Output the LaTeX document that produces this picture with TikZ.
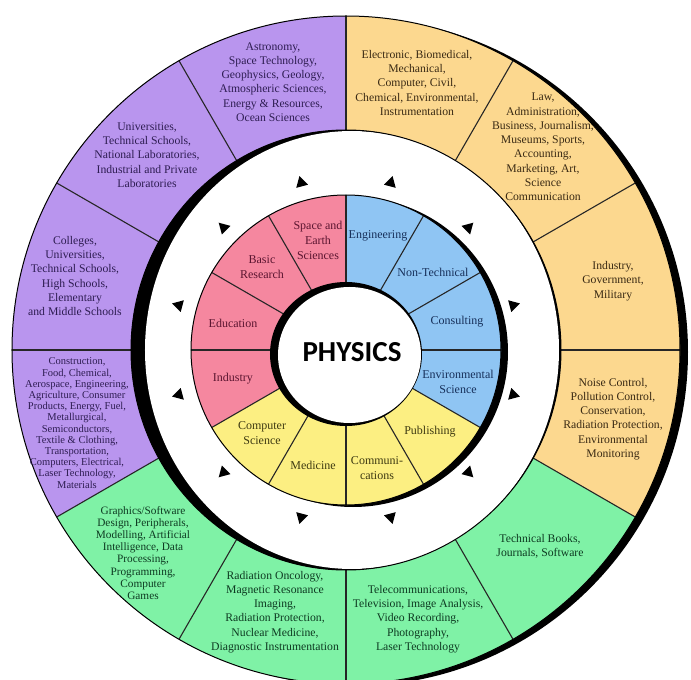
\documentclass[tikz,border=0pt]{standalone}
\usepackage{fontspec}
\setmainfont{Liberation Serif}
\newfontfamily\physfont{Carlito}
\usetikzlibrary{shapes.geometric}
\definecolor{purp}{HTML}{B995EE}
\definecolor{orng}{HTML}{FCD88F}
\definecolor{grn}{HTML}{7FF2A6}
\definecolor{pnk}{HTML}{F5879F}
\definecolor{blu}{HTML}{8FC5F3}
\definecolor{yel}{HTML}{FCEF82}
\definecolor{tpurp}{HTML}{2E1D52}
\definecolor{torng}{HTML}{3A2A14}
\definecolor{tgrn}{HTML}{0E3B22}
\definecolor{tpnk}{HTML}{5B1530}
\definecolor{tblu}{HTML}{17305A}
\definecolor{tyel}{HTML}{3E3A12}
\begin{document}
\begin{tikzpicture}[x=1pt,y=1pt,
  divline/.style={draw=black!85, line width=1.1},
  otxt/.style={align=center, inner sep=0pt, font=\fontsize{11.7}{14.3}\selectfont},
  itxt/.style={align=center, inner sep=0pt, font=\fontsize{12}{15}\selectfont},
  tri/.style={regular polygon, regular polygon sides=3, fill=black, draw=none, minimum size=14pt, inner sep=0pt}]
\useasboundingbox (-346,-330) rectangle (345,350);
\fill[white] (-346,-330) rectangle (345,350);
% outer ring
\fill[black] (8,-2) circle (334);
\fill[orng] (0,0) -- (-30:334) arc[start angle=-30,end angle=90,radius=334] -- cycle;
\fill[grn] (0,0) -- (-150:334) arc[start angle=-150,end angle=-30,radius=334] -- cycle;
\fill[purp] (0,0) -- (90:334) arc[start angle=90,end angle=210,radius=334] -- cycle;
\foreach \a in {0,30,...,330} \draw[divline] (0,0) -- (\a:334);
\draw[line width=1] (0,0) circle (334);
% outer texts
\node[otxt, text=tpurp] (o1) at (-73,268) {Astronomy,\\Space Technology,\\Geophysics, Geology,\\Atmospheric Sciences,\\Energy \& Resources,\\Ocean Sciences};
\node[otxt, text=tpurp] (o2) at (-199,195) {Universities,\\Technical Schools,\\National Laboratories,\\Industrial and Private\\Laboratories};
\node[otxt, text=tpurp] (o3) at (-271,74) {Colleges,\\Universities,\\Technical Schools,\\High Schools,\\Elementary\\and Middle Schools};
\node[otxt, text=tpurp, font=\fontsize{10.5}{11.2}\selectfont] (o4) at (-269,-73) {Construction,\\Food, Chemical,\\Aerospace, Engineering,\\Agriculture, Consumer\\Products, Energy, Fuel,\\Metallurgical,\\Semiconductors,\\Textile \& Clothing,\\Transportation,\\Computers, Electrical,\\Laser Technology,\\Materials};
\node[otxt, text=tgrn, font=\fontsize{11.3}{12.1}\selectfont] (o5) at (-203,-203) {Graphics/Software\\Design, Peripherals,\\Modelling, Artificial\\Intelligence, Data\\Processing,\\Programming,\\Computer\\Games};
\node[otxt, text=tgrn] (o6) at (-71,-262) {Radiation Oncology,\\Magnetic Resonance\\Imaging,\\Radiation Protection,\\Nuclear Medicine,\\Diagnostic Instrumentation};
\node[otxt, text=tgrn] (o7) at (72,-269) {Telecommunications,\\Television, Image Analysis,\\Video Recording,\\Photography,\\Laser Technology};
\node[otxt, text=tgrn] (o8) at (194,-196) {Technical Books,\\Journals, Software};
\node[otxt, text=torng] (o9) at (267,-69) {Noise Control,\\Pollution Control,\\Conservation,\\Radiation Protection,\\Environmental\\Monitoring};
\node[otxt, text=torng] (o10) at (267,69) {Industry,\\Government,\\Military};
\node[otxt, text=torng] (o11) at (197,203) {Law,\\Administration,\\Business, Journalism,\\Museums, Sports,\\Accounting,\\Marketing, Art,\\Science\\Communication};
\node[otxt, text=torng] (o12) at (71,267) {Electronic, Biomedical,\\Mechanical,\\Computer, Civil,\\Chemical, Environmental,\\Instrumentation};
% white annulus
\fill[black] (0,0) ellipse[x radius=215, y radius=220];
\fill[white] (6,0) ellipse[x radius=207, y radius=219];
\draw[line width=1] (0,0) ellipse[x radius=215, y radius=220];
% triangles
\foreach \a in {15,45,...,345} \node[tri, rotate=\a-90] at (\a:173) {};
% inner ring
\fill[black] (7,-2) circle (155);
\fill[pnk] (0,0) -- (90:155) arc[start angle=90,end angle=210,radius=155] -- cycle;
\fill[yel] (0,0) -- (210:155) arc[start angle=210,end angle=330,radius=155] -- cycle;
\fill[blu] (0,0) -- (-30:155) arc[start angle=-30,end angle=90,radius=155] -- cycle;
\foreach \a in {0,30,...,330} \draw[divline] (0,0) -- (\a:155);
\draw[line width=1] (0,0) circle (155);
\node[itxt, text=tpnk] (i1) at (-28,110) {Space and\\Earth\\Sciences};
\node[itxt, text=tpnk] (i2) at (-84,83) {Basic\\Research};
\node[itxt, text=tpnk] (i3) at (-113,27) {Education};
\node[itxt, text=tpnk] (i4) at (-113,-29) {Industry};
\node[itxt, text=tyel] (i5) at (-84,-83) {Computer\\Science};
\node[itxt, text=tyel] (i6) at (-33,-115) {Medicine};
\node[itxt, text=tyel] (i7) at (31,-118) {Communi-\\cations};
\node[itxt, text=tyel] (i8) at (84,-82) {Publishing};
\node[itxt, text=tblu] (i9) at (112,-32) {Environmental\\Science};
\node[itxt, text=tblu] (i10) at (111,28) {Consulting};
\node[itxt, text=tblu] (i11) at (87,78) {Non-Technical};
\node[itxt, text=tblu] (i12) at (32,114) {Engineering};
% centre
\fill[black] (0,-4) ellipse[x radius=76, y radius=72];
\fill[white] (3.5,-5) ellipse[x radius=71.5, y radius=68];
\node[font=\physfont\bfseries\fontsize{29}{29}\selectfont, inner sep=0pt] (phys) at (6,-2) {PHYSICS};
\end{tikzpicture}
\end{document}
